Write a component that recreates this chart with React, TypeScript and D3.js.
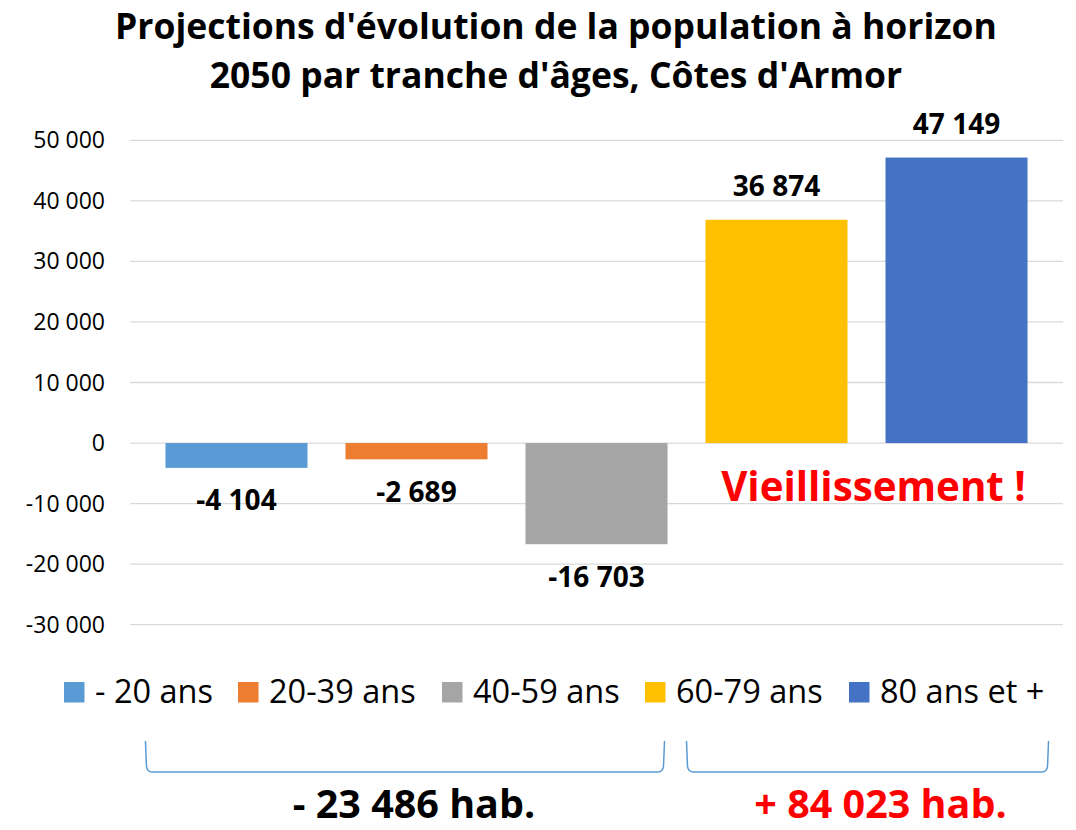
import React from 'react';
import * as d3 from 'd3';

const categories = ['- 20 ans', '20-39 ans', '40-59 ans', '60-79 ans', '80 ans et +'];
const values = [-4104, -2689, -16703, 36874, 47149];
const colors = ['#5B9BD5', '#ED7D31', '#A5A5A5', '#FFC000', '#4472C4'];
const yTicks = [-30000, -20000, -10000, 0, 10000, 20000, 30000, 40000, 50000];
const titleLines = ["Projections d'évolution de la population à horizon", "2050 par tranche d'âges, Côtes d'Armor"];
const groupLabels = ['- 23 486 hab.', '+ 84 023 hab.'];
const groupStart = [0, 3];
const groupEnd = [2, 4];
const groupColors = ['#000000', '#FF0000'];
const annotation = 'Vieillissement !';

const W = 1076;
const H = 830;
const FONT = '"Open Sans", sans-serif';

const locale = d3.formatLocale({ decimal: ',', thousands: ' ', grouping: [3], currency: ['', ''], minus: '-' });
const fmt = locale.format(',d');

export default function App() {
  const y = d3.scaleLinear().domain([-30000, 50000]).range([624.7, 140.3]);
  const x = d3.scaleBand<string>().domain(categories).range([130, 1063]).paddingInner(0.211).paddingOuter(0.197);
  const bw = x.bandwidth();
  const gridX0 = 130;
  const gridX1 = 1063;

  const bracketPath = (a: number, b: number) => {
    const top = 741;
    const bot = 772;
    return `M${a},${top} L${a + 1},${bot - 6} Q${a + 1.5},${bot} ${a + 7},${bot} L${b - 7},${bot} Q${b - 1.5},${bot} ${b - 1},${bot - 6} L${b},${top}`;
  };

  const bracketLeft = [x(categories[groupStart[0]])! - 20, x(categories[groupStart[1]])! - 19];
  const bracketRight = [x(categories[groupEnd[0]])! + bw - 3, x(categories[groupEnd[1]])! + bw + 21];

  return (
    <svg width={W} height={H} style={{ position: 'absolute', left: 0, top: 0, background: '#fff' }} fontFamily={FONT}>
      <rect x={0} y={0} width={W} height={H} fill="#fff" />
      {titleLines.map((t, i) => (
        <text key={i} x={556} y={38.5 + i * 49} textAnchor="middle" fontSize={35.5} fontWeight={700} fill="#000">{t}</text>
      ))}
      {yTicks.map((t) => (
        <g key={t}>
          <line x1={gridX0} x2={gridX1} y1={y(t)} y2={y(t)} stroke="#D9D9D9" strokeWidth={1.3} />
          <text x={105} y={y(t)} dy="0.35em" textAnchor="end" fontSize={23} fill="#000">{fmt(t)}</text>
        </g>
      ))}
      {categories.map((c, i) => {
        const v = values[i];
        const y0 = y(Math.max(0, v));
        const y1 = y(Math.min(0, v));
        const cx = x(c)! + bw / 2;
        return (
          <g key={c}>
            <rect x={x(c)} y={y0} width={bw} height={y1 - y0} fill={colors[i]} />
            <text x={cx} y={v >= 0 ? y0 - 24 : y1 + 42.5} textAnchor="middle" fontSize={28} fontWeight={700} fill="#000">{fmt(v)}</text>
          </g>
        );
      })}
      <text x={(x(categories[3])! + x(categories[4])! + bw) / 2 + 7} y={y(-9500)} textAnchor="middle" fontSize={40.3} fontWeight={700} fill="#FF0000">{annotation}</text>
      {(() => {
        const legendSq = [64, 238, 442, 645, 849];
        return categories.map((c, i) => (
          <g key={c}>
            <rect x={legendSq[i]} y={682} width={20.5} height={20.5} fill={colors[i]} />
            <text x={legendSq[i] + 31} y={692} dy="0.35em" fontSize={32.5} fill="#000">{c}</text>
          </g>
        ));
      })()}
      {groupLabels.map((g, i) => (
        <g key={g}>
          <path d={bracketPath(bracketLeft[i], bracketRight[i])} fill="none" stroke="#5B9BD5" strokeWidth={1.5} />
          <text x={(bracketLeft[i] + bracketRight[i]) / 2 + (i === 0 ? 9 : 13)} y={818} textAnchor="middle" fontSize={39.5} fontWeight={700} fill={groupColors[i]}>{g}</text>
        </g>
      ))}
    </svg>
  );
}
